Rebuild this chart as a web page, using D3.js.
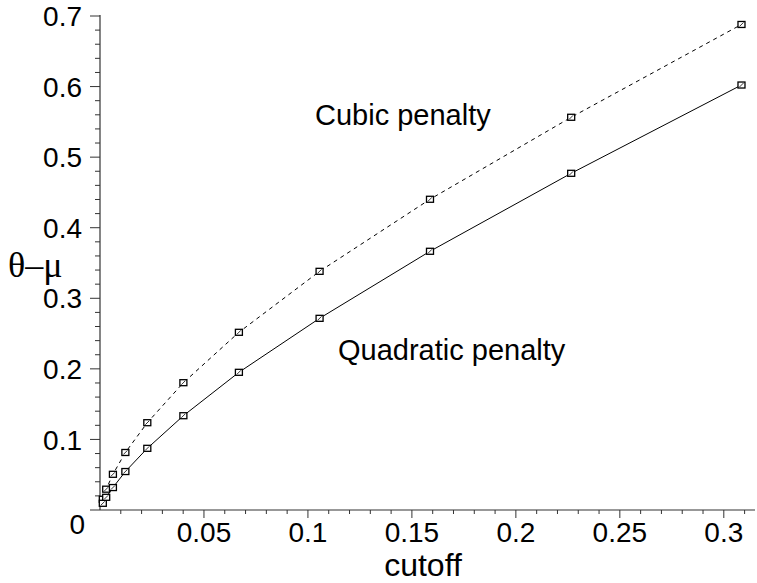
<!DOCTYPE html>
<html>
<head>
<meta charset="utf-8">
<script src="https://cdn.jsdelivr.net/npm/d3@7"></script>
<style>
  body { margin: 0; background: #fff; }
  text { font-family: "Liberation Sans", Arial, sans-serif; fill: #000; }
</style>
</head>
<body>
<svg id="chart" width="757" height="583"></svg>
<script>
// cutoff values (x) and the two penalty curves (y)
const cutoff = [0.00135, 0.00298, 0.00621, 0.0122, 0.02275, 0.0401, 0.0668, 0.1056, 0.1587, 0.2266, 0.3085];
const cubic = [0.0152, 0.0295, 0.0506, 0.0815, 0.1237, 0.1804, 0.2518, 0.3382, 0.4403, 0.5565, 0.688];
const quadratic = [0.0095, 0.018, 0.0318, 0.0545, 0.0874, 0.1336, 0.1951, 0.2716, 0.3666, 0.4771, 0.6022];

const xTicks = [0.05, 0.1, 0.15, 0.2, 0.25, 0.3];
const yTicks = [0.1, 0.2, 0.3, 0.4, 0.5, 0.6, 0.7];
const xMinor = d3.range(1, 32).map((i) => i / 100);
const yMinor = d3.range(1, 36).map((i) => i / 50);

const svg = d3.select("#chart");

const x = d3.scaleLinear().domain([0, 0.315]).range([100, 755]);
const y = d3.scaleLinear().domain([0, 0.7]).range([510, 16]);

// Axes
const xAxis = svg.append("g").attr("transform", `translate(0, ${y(0)})`);
xAxis.append("line")
  .attr("x1", x(0) - 10).attr("x2", x(0.315))
  .attr("stroke", "#333").attr("stroke-width", 1.2);
xAxis.selectAll(".minor")
  .data(xMinor)
  .enter()
  .append("line")
  .attr("x1", (d) => x(d)).attr("x2", (d) => x(d))
  .attr("y1", 0).attr("y2", (d) => (Math.round(d * 100) % 5 === 0 ? 8 : 4))
  .attr("stroke", "#333");
xAxis.selectAll(".lbl")
  .data(xTicks)
  .enter()
  .append("text")
  .attr("x", (d) => x(d))
  .attr("y", 32)
  .attr("text-anchor", "middle")
  .style("font-size", "28px")
  .text((d) => d);

const yAxis = svg.append("g").attr("transform", `translate(${x(0)}, 0)`);
yAxis.append("line")
  .attr("y1", y(0.7) - 1).attr("y2", y(0))
  .attr("stroke", "#333").attr("stroke-width", 1.2);
yAxis.selectAll(".minor")
  .data(yMinor)
  .enter()
  .append("line")
  .attr("y1", (d) => y(d)).attr("y2", (d) => y(d))
  .attr("x1", (d) => (Math.round(d * 50) % 5 === 0 ? -10 : -5)).attr("x2", 0)
  .attr("stroke", "#333");
yAxis.selectAll(".lbl")
  .data(yTicks)
  .enter()
  .append("text")
  .attr("x", -18)
  .attr("y", (d) => y(d))
  .attr("dy", "0.36em")
  .attr("text-anchor", "end")
  .style("font-size", "28px")
  .text((d) => d);

// origin label
svg.append("text")
  .attr("x", x(0) - 15).attr("y", y(0) + 24)
  .attr("text-anchor", "end")
  .style("font-size", "28px")
  .text("0");

// Axis titles
svg.append("text")
  .attr("x", 423).attr("y", 576)
  .attr("text-anchor", "middle")
  .style("font-size", "32px")
  .text("cutoff");

svg.append("text")
  .attr("x", 8).attr("y", 277)
  .style("font-family", "'Liberation Serif', 'Times New Roman', serif")
  .style("font-size", "36px")
  .text("θ–μ");

// Curves
const line = d3.line().x((d) => x(d[0])).y((d) => y(d[1]));
const series = [
  { values: cubic, dash: "4,4" },
  { values: quadratic, dash: null },
];

series.forEach((s) => {
  const pts = cutoff.map((c, i) => [c, s.values[i]]);
  svg.append("path")
    .datum(pts)
    .attr("d", line)
    .attr("fill", "none")
    .attr("stroke", "#000")
    .attr("stroke-width", 1)
    .attr("stroke-dasharray", s.dash);

  const m = svg.selectAll(null).data(pts).enter().append("g")
    .attr("transform", (d) => `translate(${x(d[0])}, ${y(d[1])})`);
  m.append("rect")
    .attr("x", -3.5).attr("y", -3).attr("width", 7).attr("height", 6)
    .attr("fill", "#fff").attr("stroke", "#000").attr("stroke-width", 1.3);
  m.append("line")
    .attr("x1", -2).attr("y1", 2).attr("x2", 2).attr("y2", -2)
    .attr("stroke", "#000").attr("stroke-width", 0.8);
});

// Annotations
svg.append("text")
  .attr("x", 315).attr("y", 125)
  .style("font-size", "29px")
  .text("Cubic penalty");

svg.append("text")
  .attr("x", 338).attr("y", 360)
  .style("font-size", "29px")
  .text("Quadratic penalty");
</script>
</body>
</html>
